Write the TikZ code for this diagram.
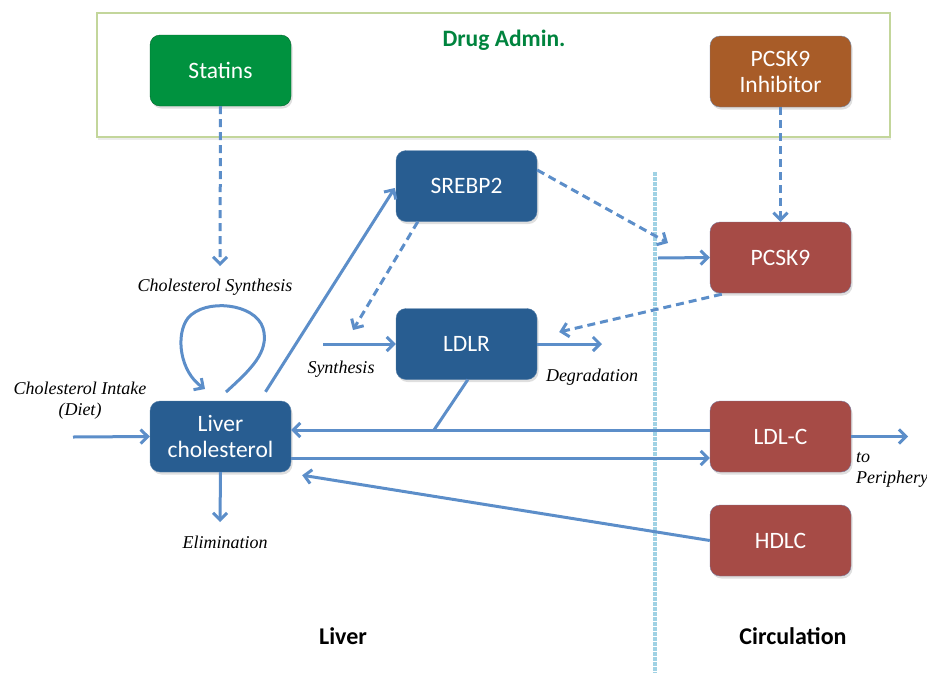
\documentclass[tikz,border=0pt]{standalone}
\usepackage{fontspec}
\setmainfont{Liberation Serif}
\newfontfamily\carfont{Carlito}
\usetikzlibrary{arrows.meta,shadows,calc}
\definecolor{arrblue}{RGB}{92,142,201}
\definecolor{boxblue}{RGB}{40,93,145}
\definecolor{boxred}{RGB}{166,75,70}
\definecolor{boxbrown}{RGB}{168,92,40}
\definecolor{boxgreen}{RGB}{0,146,63}
\definecolor{drugtext}{RGB}{0,132,62}
\definecolor{drugborder}{RGB}{195,214,155}
\definecolor{sepblue}{RGB}{160,210,228}
\tikzset{
  box/.style={rounded corners=10pt, minimum width=141pt, minimum height=71pt, text=white,
    font=\carfont\fontsize{23.5}{26}\selectfont, align=center, inner sep=2pt,
    drop shadow={opacity=0.25, shadow xshift=1.5pt, shadow yshift=-2.5pt}},
  bluebox/.style={box, fill=boxblue, draw=boxblue!80!white},
  redbox/.style={box, fill=boxred, draw=arrblue!60!boxred},
  lab/.style={font=\itshape\fontsize{18}{21}\selectfont, align=center, inner sep=1pt},
  arr/.style={draw=arrblue, line width=3pt, -{Straight Barb[length=7pt,width=14pt,line width=3pt]}},
  darr/.style={arr, dash pattern=on 8pt off 5pt},
  plain/.style={draw=arrblue, line width=3pt},
  region/.style={font=\carfont\bfseries\fontsize{24}{28}\selectfont}
}
\begin{document}
\begin{tikzpicture}[x=1pt,y=-1pt]
\useasboundingbox (0,0) rectangle (927,673);
% drug admin frame
\node (drug) [draw=drugborder, line width=2pt, minimum width=793pt, minimum height=124pt,
  drop shadow={opacity=0.15, shadow xshift=1pt, shadow yshift=-2.5pt}, fill=white] at (493.5,75) {};
\node (drugt) [font=\carfont\bfseries\fontsize{23.5}{27}\selectfont, text=drugtext] at (504,40) {Drug Admin.};
% separator
\coordinate (sepT) at (655,172);
\coordinate (sepB) at (655,673);
\draw[sepblue, line width=3.5pt, dash pattern=on 3.5pt off 1.5pt] (sepT) -- (sepB);
% boxes
\node (statins) [box, fill=boxgreen, draw=boxgreen!70!black] at (220.5,70.5) {Statins};
\node (inhib) [box, fill=boxbrown, draw=arrblue!70!boxbrown] at (780.5,71.5) {PCSK9\\Inhibitor};
\node (srebp) [bluebox] at (466.5,186) {SREBP2};
\node (ldlr) [bluebox] at (466.5,344) {LDLR};
\node (liver) [bluebox] at (220.5,436.5) {Liver\\cholesterol};
\node (pcsk9) [redbox] at (780.5,257.5) {PCSK9};
\node (ldlc) [redbox] at (780.5,436.5) {LDL-C};
\node (hdlc) [redbox] at (780.5,540.5) {HDLC};
% labels
\node (lsyn) [lab] at (215,287) {Cholesterol Synthesis};
\node (lint) [lab] at (80,401) {Cholesterol Intake\\(Diet)};
\node (lsyn2) [lab] at (341,369) {Synthesis};
\node (ldeg) [lab] at (592,377) {Degradation};
\node (lelim) [lab] at (225,542) {Elimination};
\node (lper) [lab, align=left, anchor=north west] at (855,451) {to\\Periphery};
\node (rliver) [region] at (343,636) {Liver};
\node (rcirc) [region] at (793,636) {Circulation};
% coordinates
\coordinate (cs) at (220,266);
\coordinate (loopS) at (226,392);
\coordinate (loopE) at (205,389);
\coordinate (ss) at (353,330);
\coordinate (synS) at (323,344);
\coordinate (degE) at (602,344);
\coordinate (pk) at (668,243);
\coordinate (pkS) at (658,258);
\coordinate (junc) at (434,430);
\coordinate (perE) at (908,436.5);
\coordinate (elimE) at (220,522);
\coordinate (intS) at (73,437);
% connectors
\draw[darr] (statins.south) -- (cs);
\draw[darr] (inhib.south) -- (pcsk9.north);
\draw[arr] (loopS) .. controls (250,370) and (270,352) .. (263,328)
   .. controls (255,303) and (205,298) .. (188,318)
   .. controls (175,335) and (180,372) .. (loopE);
\draw[arr] ($(liver.north)+(45,-9)$) -- ($(srebp.west)+(-1,2)$);
\draw[darr] ($(srebp.south west)+(22,0)$) -- (ss);
\draw[arr] (synS) -- (ldlr.west);
\draw[arr] (ldlr.east) -- (degE);
\draw[darr] ($(srebp.east)+(0,-16)$) -- (pk);
\draw[arr] (pkS) -- (pcsk9.west);
\draw[darr] ($(pcsk9.south west)+(12,1)$) -- ($(ldlr.east)+(22,-12)$);
\draw[arr] ($(ldlc.west)+(0,-6.5)$) -- ($(liver.east)+(0,-6.5)$);
\draw[plain] ($(ldlr.south west)+(72,0)$) -- (junc);
\draw[arr] ($(liver.east)+(0,21.5)$) -- ($(ldlc.west)+(0,21.5)$);
\draw[arr] (ldlc.east) -- (perE);
\draw[arr] (hdlc.west) -- ($(liver.south east)+(11,3)$);
\draw[arr] (liver.south) -- (elimE);
\draw[arr] (intS) -- (liver.west);
\end{tikzpicture}
\end{document}
